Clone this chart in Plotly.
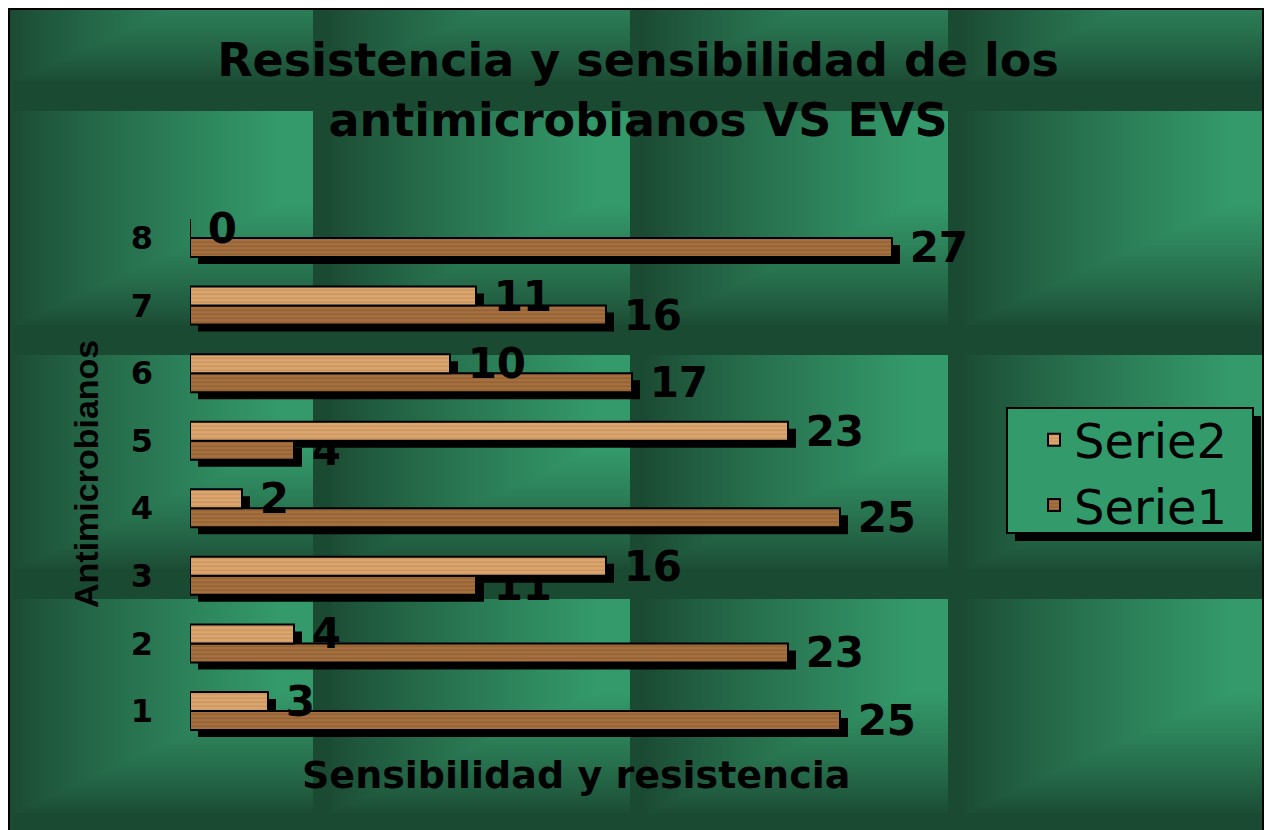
import base64
import struct
import zlib

import numpy as np
import plotly.graph_objects as go

# ---------------- data ----------------
categories = ["1", "2", "3", "4", "5", "6", "7", "8"]
serie1 = [25, 23, 11, 25, 4, 17, 16, 27]
serie2 = [3, 4, 16, 2, 23, 10, 11, 0]
series_names = ["Serie1", "Serie2"]
title_text = "Resistencia y sensibilidad de los<br>antimicrobianos VS EVS"
x_title = "Sensibilidad y resistencia"
y_title = "Antimicrobianos"

# ---------------- canvas helpers (screen pixel -> paper) ----------------
OFF = 8            # page body margin
FW, FH = 1256, 822  # figure size


def px(s):
    return (s - OFF) / FW


def py(s):
    return 1 - (s - OFF) / FH


def make_background():
    xs = OFF + np.arange(FW) + 0.5
    ys = OFF + np.arange(FH) + 0.5
    TW, TH = 317.33, 244.0
    u = ((xs - 313.0) % TW) / TW
    v = ((ys - 111.0) % TH) / TH
    f = np.clip((u - 0.05) / 0.85, 0, 1)
    g = np.clip((0.88 - v) / 0.5, 0, 1)
    b = np.minimum(f[None, :], g[:, None]) ** 0.85
    dark = np.array([27, 74, 51], dtype=float)
    bright = np.array([52, 154, 107], dtype=float)
    img = dark + (bright - dark) * b[..., None]
    img = np.clip(np.round(img), 0, 255).astype(np.uint8)
    raw = b"".join(b"\x00" + img[r].tobytes() for r in range(FH))

    def chunk(t, d):
        return (struct.pack(">I", len(d)) + t + d
                + struct.pack(">I", zlib.crc32(t + d) & 0xFFFFFFFF))

    png = (b"\x89PNG\r\n\x1a\n"
           + chunk(b"IHDR", struct.pack(">IIBBBBB", FW, FH, 8, 2, 0, 0, 0))
           + chunk(b"IDAT", zlib.compress(raw, 9))
           + chunk(b"IEND", b""))
    return "data:image/png;base64," + base64.b64encode(png).decode()


BOLD = "DejaVu Sans"
wood = {
    "Serie1": dict(color="#a6713e", grain="#6e4526"),
    "Serie2": dict(color="#dba670", grain="#b07945"),
}
values = {"Serie1": serie1, "Serie2": serie2}

fig = go.Figure()

# shadows (subplot xy, drawn first)
for name in series_names:
    fig.add_trace(go.Bar(
        y=categories, x=values[name], orientation="h", name=name,
        marker=dict(color="black", line=dict(width=0)),
        showlegend=False, hoverinfo="skip", xaxis="x", yaxis="y",
    ))

# main bars (subplot x2y2, drawn on top)
for name in series_names:
    fig.add_trace(go.Bar(
        y=categories, x=values[name], orientation="h", name=name,
        marker=dict(
            color=wood[name]["color"],
            line=dict(color="black", width=2),
            pattern=dict(shape="-", bgcolor=wood[name]["color"],
                         fgcolor=wood[name]["grain"], size=4,
                         solidity=0.2, fgopacity=0.75),
        ),
        texttemplate="\u00a0%{x}", textposition="outside",
        textfont=dict(family=BOLD, size=42, color="black", weight="bold"),
        constraintext="none", cliponaxis=False,
        xaxis="x2", yaxis="y2",
    ))

cat_axis = dict(type="category", categoryorder="array", categoryarray=categories,
                range=[-0.5, 7.5], fixedrange=True)

fig.update_layout(
    width=FW, height=FH,
    margin=dict(l=0, r=0, t=0, b=0),
    paper_bgcolor="white",
    plot_bgcolor="rgba(0,0,0,0)",
    barmode="group", bargap=0.4376, bargroupgap=0,
    images=[dict(source=make_background(), xref="paper", yref="paper",
                 x=0, y=1, sizex=1, sizey=1,
                 xanchor="left", yanchor="top", sizing="stretch", layer="below")],
    xaxis=dict(domain=[px(198), px(1238)], range=[0, 40], visible=False,
               anchor="y", fixedrange=True),
    yaxis=dict(domain=[py(751.8), py(211.2)], visible=False, anchor="x", **cat_axis),
    xaxis2=dict(domain=[px(190), px(1230)], range=[0, 40], anchor="y2",
                showgrid=False, zeroline=False, showticklabels=False,
                showline=False, ticks="", fixedrange=True),
    yaxis2=dict(domain=[py(744.8), py(204.2)], anchor="x2", showgrid=False,
                zeroline=False, showline=False, ticks="",
                ticklabelstandoff=36,
                tickfont=dict(family=BOLD, size=32, color="black", weight="bold"),
                **cat_axis),
    title=dict(text=title_text, x=px(638), xanchor="center", xref="paper",
               y=py(76), yanchor="middle", yref="paper",
               font=dict(family=BOLD, size=46, color="black", weight="bold")),
    legend=dict(x=px(1034), xanchor="left", y=py(402), yanchor="top",
                traceorder="reversed", bgcolor="rgba(0,0,0,0)", borderwidth=0,
                font=dict(family="DejaVu Sans", size=48, color="black")),
    annotations=[
        dict(text=x_title, xref="paper", yref="paper", x=px(576), y=py(775),
             showarrow=False, xanchor="center", yanchor="middle",
             font=dict(family=BOLD, size=38, color="black", weight="bold")),
        dict(text=y_title, xref="paper", yref="paper", x=px(86), y=py(474),
             showarrow=False, textangle=-90, xanchor="center", yanchor="middle",
             font=dict(family="Liberation Sans", size=34, color="black", weight="bold")),
    ],
    shapes=[
        dict(type="rect", xref="paper", yref="paper", x0=px(1015), x1=px(1261),
             y0=py(416), y1=py(541), fillcolor="black", line=dict(width=0), layer="below"),
        dict(type="rect", xref="paper", yref="paper", x0=px(1007), x1=px(1253),
             y0=py(408), y1=py(533), fillcolor="#339a6b",
             line=dict(color="black", width=2), layer="below"),
        dict(type="rect", xref="paper", yref="paper", x0=px(9), x1=px(1263),
             y0=py(840), y1=py(9), line=dict(color="black", width=2),
             fillcolor="rgba(0,0,0,0)", layer="above"),
    ],
    showlegend=True,
)

fig.write_html("out.html")
